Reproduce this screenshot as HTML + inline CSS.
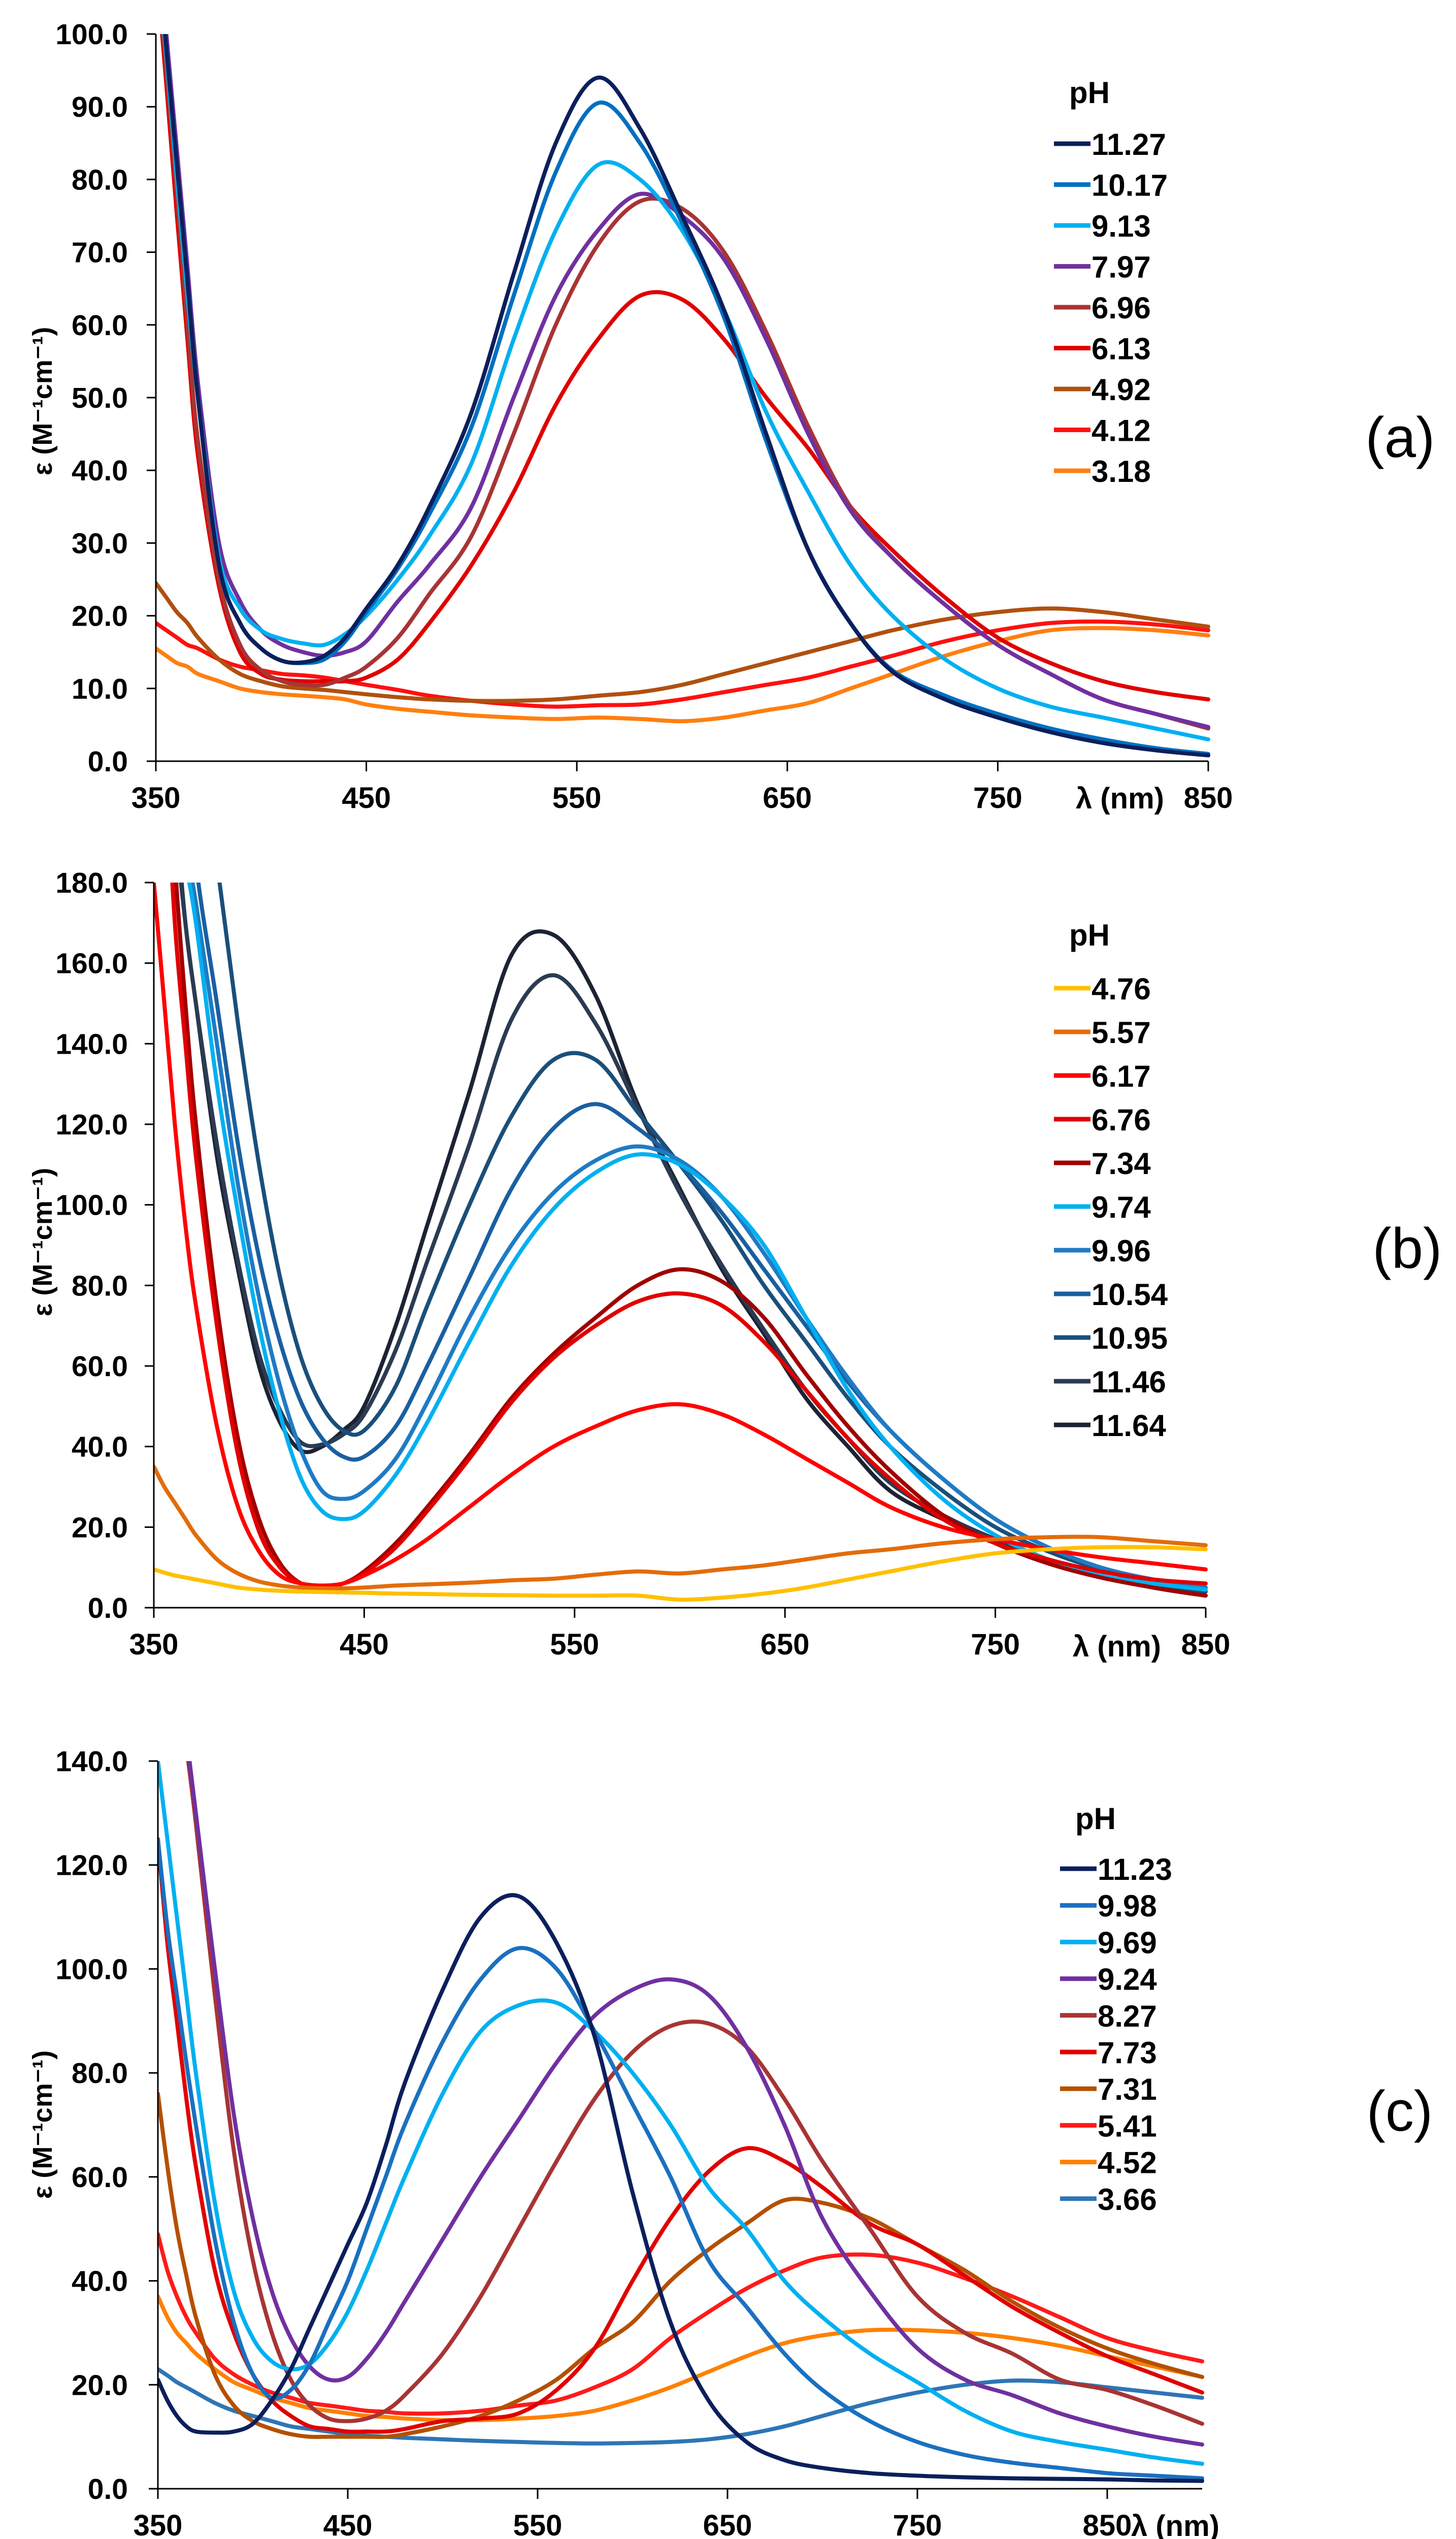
<!DOCTYPE html>
<html><head><meta charset="utf-8"><style>
html,body{margin:0;padding:0;background:#fff;overflow:hidden;}
svg{display:block;font-family:"Liberation Sans",Arial,sans-serif;}
</style></head>
<body>
<svg id="fig" width="2868" height="5046" viewBox="0 0 2868 5046" xmlns="http://www.w3.org/2000/svg"></svg>
<script>
// ---------- Panel (a) data ----------
const aWavelengths = [350,355,360,365,370,380,390,400,410,420,430,440,450,465,480,500,520,540,560,580,600,620,640,660,680,700,725,750,775,800,825,850];
const aYTicks = [0,10,20,30,40,50,60,70,80,90,100];
const aXTicks = [350,450,550,650,750,850];
const aLabels = ["11.27","10.17","9.13","7.97","6.96","6.13","4.92","4.12","3.18"];
const aColors = ["#0b1f5c","#0070c0","#00b0f0","#7030a0","#a83434","#e00000","#b0500f","#ff1010","#ff7f10"];
const a1127 = [115,98,82,66,50,27,19,15.5,13.8,13.6,14.5,17,21,27,35,48,67,85,94,87,75,62,45,29,19,12.3,8.5,6,4,2.5,1.5,0.8];
const a1017 = [115,98,82,66,50,27,19,15.5,13.8,13.5,14,16.5,20.5,26.5,34,46,64,81,90.5,85,74,61,44,29,19,12.5,9,6.5,4.5,3,1.8,1];
const a913 = [112,97,80,64,50,28,21,18,16.8,16.2,16,17.5,20,25,31,41,58,73,82,80,73,62,48,37,27,20,14,10,7.5,6,4.5,3];
const a797 = [118,100,84,68,52,30,22,18,16,15,14.5,15,16.5,22,27,35,50,64,73,78,75,69,58,45,34.5,28,21.5,16,12,8.5,6.5,4.7];
const a696 = [112,95,78,60,44,25,16,12.5,11,10.5,10.5,11.5,13,17,23,31,45,60,71,77,76,70,59,46,35,28,21.5,16,12,8.5,6.5,4.5];
const a613 = [110,93,75,58,42,24,15,12,11.2,11,11,11,11.5,14,19,27,37,49,58,64,63.5,58,50,43,35,29,22.5,17,13.5,11,9.5,8.5];
const a492 = [24.5,22.5,20.5,19,17,14,12,11,10.3,10,9.8,9.5,9.2,8.8,8.5,8.3,8.3,8.5,9,9.5,10.5,12,13.5,15,16.5,18,19.5,20.5,21,20.5,19.5,18.5];
const a412 = [19,18,17,16,15.5,14,13,12.5,12,11.8,11.5,11,10.5,9.8,9,8.3,7.8,7.5,7.7,7.8,8.5,9.5,10.5,11.5,13,14.5,16.5,18,19,19.2,18.8,18];
const a318 = [15.5,14.5,13.5,13,12,11,10,9.5,9.2,9,8.8,8.5,7.8,7.2,6.8,6.3,6,5.8,6,5.8,5.5,6,7,8,10,12,14.5,16.5,18,18.3,18,17.3];

// ---------- Panel (b) data ----------
const bWavelengths = [350,355,360,365,370,380,390,400,410,420,430,440,450,465,480,500,520,540,560,580,600,620,640,660,680,700,725,750,775,800,825,850];
const bYTicks = [0,20,40,60,80,100,120,140,160,180];
const bXTicks = [350,450,550,650,750,850];
const bLabels = ["4.76","5.57","6.17","6.76","7.34","9.74","9.96","10.54","10.95","11.46","11.64"];
const bColors = ["#ffc000","#e36c0a","#ff0000","#e00000","#a00000","#00b0f0","#1f7bc4","#1a5fa0","#1a4f7a","#2a3b52","#1c2333"];
const b476 = [9.5,8.7,8,7.5,7,6,5,4.5,4.2,4,3.9,3.8,3.7,3.5,3.4,3.2,3.1,3,3,3,2,2.5,3.5,5,7,9,11.5,13.5,14.5,15,15,14.5];
const b557 = [35,30,26,22,18,12,8.5,6.5,5.5,5,4.8,4.8,5,5.5,5.8,6.2,6.8,7.2,8.2,9,8.5,9.5,10.5,12,13.5,14.5,16,17,17.5,17.5,16.5,15.5];
const b617 = [180,150,120,95,75,45,25,14,8,6,5.5,6,8,12,17,25,33,40,45,49,50.5,48,43,37,31,25,20,17,14.5,12.5,11,9.5];
const b676 = [250,215,170,140,112,70,38,19,10,6,5.2,6,8.5,15,24,37,51,62,70,76,78,75,66,54,42,32,22,16,12,9,7,6];
const b734 = [260,230,185,150,120,75,42,22,11,6,5,6,9,16,25,38,52,63,72,80,84,81,72,58,45,34,23,16,11,7.5,5,3];
const b974 = [250,225,200,185,170,130,98,70,48,32,24,22,24,33,46,66,85,99,108,112.5,110,102,90,72,54,40,27,18,12,8,6,4.5];
const b996 = [260,235,210,190,175,140,105,77,55,39,29,27,29,37,51,72,90,103,111,114.5,111,102,88,72,57,44,32,22,15,10,7,5];
const b1054 = [280,260,240,220,185,150,115,87,66,51,42,37.5,37.5,45,60,82,104,119,125,119,110,98,84,70,56,44,32,22,15,10,7,5];
const b1095 = [300,280,260,240,220,185,145,110,82,62,50,44,44,55,75,100,122,136,136,123,110,96,80,66,52,40,29,20,14,9.5,6,4];
const b1146 = [250,225,195,170,150,115,86,63,49,41,40.5,43,48,64,86,115,146,157,145,124,103,85,69,54,42,31,23,17,12,8,5,3];
const b1164 = [260,235,200,170,150,112,84,60,46,39,40,44,50,70,95,128,162,167,152,125,104,84,68,52,40,29,22,16.5,12,8,5,3];

// ---------- Panel (c) data ----------
const cWavelengths = [350,355,360,365,370,380,390,400,410,420,430,440,450,460,470,480,500,520,540,560,580,600,620,640,660,680,700,725,750,775,800,825,850,875,900];
const cYTicks = [0,20,40,60,80,100,120,140];
const cXTicks = [350,450,550,650,750,850];
const cLabels = ["11.23","9.98","9.69","9.24","8.27","7.73","7.31","5.41","4.52","3.66"];
const cColors = ["#0b1f5c","#1a70c0","#00b0f0","#7030a0","#a83434","#e00000","#b45000","#ff1a1a","#ff8000","#2e75b6"];
const c1123 = [21,17,14,12,11,10.8,11,12.5,17,23,31,39,47,55,66,78,96,110,114,105,87,57,32,17,9,5.5,4,3,2.5,2.2,2,1.9,1.8,1.6,1.5];
const c998 = [125,108,95,82,70,48,32,22,17.5,19,24,32,40,50,60,70,86,98,104,100,88,74,60,44,35,26,19,13,9,6.5,5,4,3,2.5,2];
const c969 = [140,125,110,95,80,55,38,29,24.5,23,24,28,34,42,51,60,76,88,93,93.5,88,80,70,58,50,40,33,26,20.5,15,11,9,7.5,6,4.8];
const c924 = [200,180,160,145,130,100,72,52,38,29,23.5,21,21.5,25,30,36,48,60,71,82,91,96,98,95,85,70,52,38,27,21,18,14.5,12,10,8.5];
const c827 = [200,180,160,143,128,95,65,44,30,21,16,13.5,13,13.5,15,18,26,37,50,63,75,84,89,89.5,85,75,63,50,37,30,26,21,19,16,12.5];
const c773 = [125,105,90,75,62,42,30,22,17,14,12,11.5,11,11,11,11.5,13,13.5,14.5,19,27,40,52,61,65.5,63,58,51,47,41,35,30,25.5,22,18.5];
const c731 = [76,62,50,41,33,22,16,13,11.5,10.5,10,10,10,10,10,10.5,12,14,17,21,27,32,40,46,51,55.5,55,52,47,42,36,31,27,24,21.5];
const c541 = [49,42,37,33,30,25,22,20,18.5,17.5,16.5,16,15.5,15,14.8,14.5,14.5,15,16,17,19.5,23,29,34,38.5,42,44.5,45,43.5,40.5,37,33,29,26.5,24.5];
const c452 = [37,33,30,28,26,23,20.5,19,17.5,16.5,15.5,15,14.5,14,13.8,13.5,13.2,13.2,13.5,14,15,17,19.5,22.5,25.5,28,29.5,30.5,30.5,30,29,27.5,25.5,23.5,21.5];
const c366 = [23,21.8,20.5,19.5,18.5,16.5,15,14,13,12,11.5,11,10.5,10.2,10,9.8,9.5,9.2,9,8.8,8.7,8.8,9,9.5,10.5,12,14,16.5,18.5,20,20.8,20.5,19.5,18.5,17.5];

const NS = "http://www.w3.org/2000/svg";
const svg = document.getElementById('fig');
function mk(tag, attrs, parent){
  const e = document.createElementNS(NS, tag);
  for (const k in attrs) e.setAttribute(k, attrs[k]);
  (parent||svg).appendChild(e);
  return e;
}
function smoothPath(pts){
  let d = "M" + pts[0][0].toFixed(1) + "," + pts[0][1].toFixed(1);
  for (let i=0;i<pts.length-1;i++){
    const p0 = pts[i-1]||pts[i], p1 = pts[i], p2 = pts[i+1], p3 = pts[i+2]||pts[i+1];
    const c1x = p1[0]+(p2[0]-p0[0])/6, c1y = p1[1]+(p2[1]-p0[1])/6;
    const c2x = p2[0]-(p3[0]-p1[0])/6, c2y = p2[1]-(p3[1]-p1[1])/6;
    d += " C"+c1x.toFixed(1)+","+c1y.toFixed(1)+" "+c2x.toFixed(1)+","+c2y.toFixed(1)+" "+p2[0].toFixed(1)+","+p2[1].toFixed(1);
  }
  return d;
}

function drawPanel(cfg){
  const g = mk('g', {});
  
  
  const X = v => cfg.x0 + (v - cfg.xmin) / (cfg.xmax - cfg.xmin) * (cfg.x1 - cfg.x0);
  const Y = v => cfg.y0 - v / cfg.ymax * (cfg.y0 - cfg.ytop);
  const cp = mk('clipPath', {id: cfg.id + '-clip'}, g);
  mk('rect', {x: cfg.x0, y: cfg.ytop, width: cfg.x1 - cfg.x0 + 6, height: cfg.y0 - cfg.ytop}, cp);
  const sg = mk('g', {'clip-path': 'url(#' + cfg.id + '-clip)'}, g);
  
  
  for (let s = cfg.series.length - 1; s >= 0; s--){
    const vals = cfg.series[s];
    const pts = cfg.wl.map((w, i) => [X(w), Y(vals[i])]);
    const p = mk('path', {d: smoothPath(pts), fill: 'none', stroke: cfg.colors[s], 'stroke-width': 8, 'stroke-linejoin': 'round', 'stroke-linecap': 'round'}, sg);
    
    
  }
  const ya = mk('line', {x1: cfg.x0, y1: cfg.ytop, x2: cfg.x0, y2: cfg.y0 + 20, stroke: '#000', 'stroke-width': 3}, g);
  
  
  const xa = mk('line', {x1: cfg.x0 - 18, y1: cfg.y0, x2: cfg.x1, y2: cfg.y0, stroke: '#000', 'stroke-width': 3}, g);
  
  
  cfg.yticks.forEach(t => {
    const y = Y(t);
    mk('line', {x1: cfg.x0 - 18, y1: y, x2: cfg.x0, y2: y, stroke: '#000', 'stroke-width': 3}, g);
    const tx = mk('text', {x: 252, y: y + 20, 'text-anchor': 'end', 'font-size': 57, 'font-weight': 'bold'}, g);
    tx.textContent = t.toFixed(1);
    
    
  });
  cfg.xticks.forEach(t => {
    const x = X(t);
    mk('line', {x1: x, y1: cfg.y0, x2: x, y2: cfg.y0 + 20, stroke: '#000', 'stroke-width': 3}, g);
    const tx = mk('text', {x: x, y: cfg.y0 + 92, 'text-anchor': 'middle', 'font-size': 58, 'font-weight': 'bold'}, g);
    tx.textContent = String(t);
    
    
  });
  const xt = mk('text', {x: cfg.xtX, y: cfg.xtY, 'text-anchor': cfg.xtAnchor, 'font-size': 58, 'font-weight': 'bold'}, g);
  xt.textContent = 'λ (nm)';
  
  
  const yt = mk('text', {x: 0, y: 0, 'text-anchor': 'middle', 'font-size': 54, 'font-weight': 'bold', transform: 'translate(102,' + cfg.ytY + ') rotate(-90)'}, g);
  yt.textContent = 'ε (M⁻¹cm⁻¹)';
  
  
  const lg = mk('g', {}, g);
  
  
  const ph = mk('text', {x: cfg.legX + 70, y: cfg.phY + 22, 'text-anchor': 'middle', 'font-size': 60, 'font-weight': 'bold'}, lg);
  ph.textContent = 'pH';
  
  
  cfg.labels.forEach((lab, i) => {
    const cy = cfg.legY + i * cfg.legDy;
    const le = mk('g', {}, lg);
    
    
    mk('line', {x1: cfg.legX, y1: cy, x2: cfg.legX + 72, y2: cy, stroke: cfg.colors[i], 'stroke-width': 9}, le);
    const t = mk('text', {x: cfg.legX + 74, y: cy + 22, 'font-size': 60, 'font-weight': 'bold'}, le);
    t.textContent = lab;
  });
  const pl = mk('text', {x: cfg.plX, y: cfg.plY + 40, 'text-anchor': 'middle', 'font-size': 112}, g);
  pl.textContent = cfg.panelLabel;
  
  
}

drawPanel({id:'pa', name:'panel-a', wl:aWavelengths, series:[a1127,a1017,a913,a797,a696,a613,a492,a412,a318],
  labels:aLabels, colors:aColors, yticks:aYTicks, xticks:aXTicks,
  xmin:350, xmax:850, x0:307, x1:2380, ymax:100, y0:1499, ytop:67,
  xtX:2206, xtY:1592, xtAnchor:'middle', ytY:790,
  legX:2076, legY:283, legDy:80.5, phY:181, plX:2758, plY:860, panelLabel:'(a)'});
drawPanel({id:'pb', name:'panel-b', wl:bWavelengths, series:[b476,b557,b617,b676,b734,b974,b996,b1054,b1095,b1146,b1164],
  labels:bLabels, colors:bColors, yticks:bYTicks, xticks:bXTicks,
  xmin:350, xmax:850, x0:303, x1:2375, ymax:180, y0:3166, ytop:1738,
  xtX:2200, xtY:3262, xtAnchor:'middle', ytY:2446,
  legX:2076, legY:1946, legDy:86, phY:1840, plX:2772, plY:2457, panelLabel:'(b)'});
drawPanel({id:'pc', name:'panel-c', wl:cWavelengths, series:[c1123,c998,c969,c924,c827,c773,c731,c541,c452,c366],
  labels:cLabels, colors:cColors, yticks:cYTicks, xticks:cXTicks,
  xmin:350, xmax:900, x0:311, x1:2368, ymax:140, y0:4901, ytop:3468,
  xtX:2228, xtY:4994, xtAnchor:'start', ytY:4184,
  legX:2088, legY:3680, legDy:72.2, phY:3580, plX:2757, plY:4156, panelLabel:'(c)'});
</script>
</body></html>
